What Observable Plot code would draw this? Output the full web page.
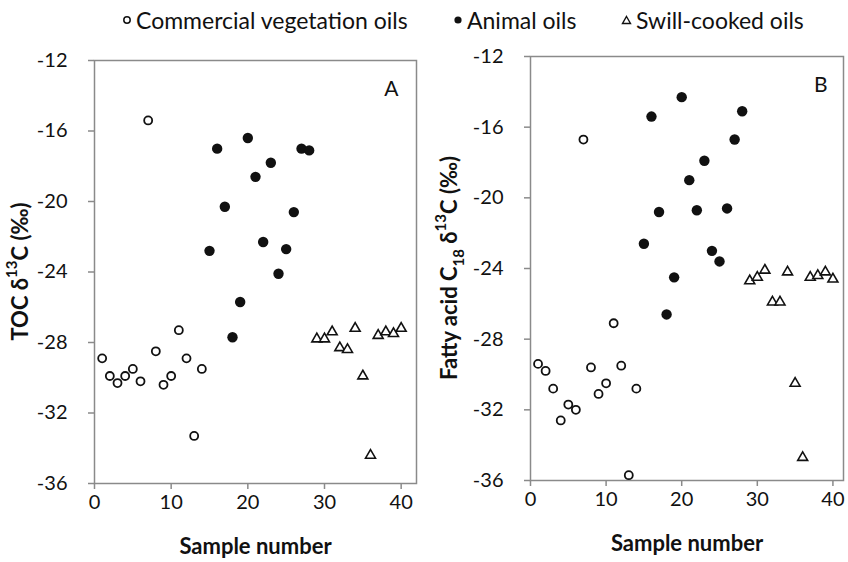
<!DOCTYPE html>
<html>
<head>
<meta charset="utf-8">
<script src="https://cdn.jsdelivr.net/npm/d3@7"></script>
<script src="https://cdn.jsdelivr.net/npm/@observablehq/plot@0.6"></script>
<style>
  html, body { margin: 0; padding: 0; background: #fff; }
  #wrap { position: relative; width: 848px; height: 562px; overflow: hidden; font-family: Lato, "Open Sans", sans-serif; color: #111; }
  .leg { position: absolute; top: 6px; height: 28px; display: flex; align-items: center; font-size: 23px; white-space: nowrap; }
  .leg svg { margin-right: 4px; }
  .panel { position: absolute; top: 40px; }
</style>
</head>
<body>
<div id="wrap">
  <div class="leg" style="left:122px"><svg width="10" height="10"><circle cx="5" cy="5" r="3.2" fill="white" stroke="#111" stroke-width="1.5"/></svg><span>Commercial vegetation oils</span></div>
  <div class="leg" style="left:453px"><svg width="10" height="10"><circle cx="5" cy="5" r="3.6" fill="#111"/></svg><span>Animal oils</span></div>
  <div class="leg" style="left:621px"><svg width="11" height="10"><path d="M5.5,1.5 L9.5,8.5 L1.5,8.5 Z" fill="white" stroke="#111" stroke-width="1.4"/></svg><span>Swill-cooked oils</span></div>
  <div id="pa" class="panel" style="left:0px"></div>
  <div id="pb" class="panel" style="left:424px"></div>
</div>
<script>
// Sample numbers per group
const vegSample    = [1, 2, 3, 4, 5, 6, 7, 8, 9, 10, 11, 12, 13, 14];
const animalSample = [15, 16, 17, 18, 19, 20, 21, 22, 23, 24, 25, 26, 27, 28];
const swillSample  = [29, 30, 31, 32, 33, 34, 35, 36, 37, 38, 39, 40];

// Panel A: TOC δ13C (‰)
const vegTOC    = [-28.9, -29.9, -30.3, -29.9, -29.5, -30.2, -15.4, -28.5, -30.4, -29.9, -27.3, -28.9, -33.3, -29.5];
const animalTOC = [-22.8, -17.0, -20.3, -27.7, -25.7, -16.4, -18.6, -22.3, -17.8, -24.1, -22.7, -20.6, -17.0, -17.1];
const swillTOC  = [-27.8, -27.8, -27.4, -28.3, -28.4, -27.2, -29.9, -34.4, -27.6, -27.4, -27.5, -27.2];

// Panel B: Fatty acid C18 δ13C (‰)
const vegFA    = [-29.4, -29.8, -30.8, -32.6, -31.7, -32.0, -16.7, -29.6, -31.1, -30.5, -27.1, -29.5, -35.7, -30.8];
const animalFA = [-22.6, -15.4, -20.8, -26.6, -24.5, -14.3, -19.0, -20.7, -17.9, -23.0, -23.6, -20.6, -16.7, -15.1];
const swillFA  = [-24.7, -24.5, -24.1, -25.9, -25.9, -24.2, -30.5, -34.7, -24.5, -24.4, -24.2, -24.6];

const xTicks = [0, 10, 20, 30, 40];
const yTicks = [-36, -32, -28, -24, -20, -16, -12];

function rows(xs, ys) { return xs.map((x, i) => ({x, y: ys[i]})); }

function panel(opts) {
  const svg = Plot.plot({
    width: 424, height: 522,
    marginLeft: opts.ml, marginRight: opts.mr, marginTop: opts.mt, marginBottom: opts.mb,
    style: {fontFamily: "Lato, 'Open Sans', sans-serif", fontSize: "20px", color: "#111", background: "white"},
    x: {domain: opts.xdom},
    y: {domain: [-36, -12]},
    marks: [
      Plot.frame({stroke: "#8a8a8a", strokeWidth: 1.5}),
      Plot.axisY({ticks: yTicks, tickSize: 6, tickPadding: 21, tickFormat: d => String(d), label: null, stroke: "#8a8a8a", strokeWidth: 1.5, fill: "#111", fontSize: 20}),
      Plot.axisX({ticks: xTicks, tickSize: 6, tickPadding: 5, tickFormat: d => String(d), label: null, stroke: "#8a8a8a", strokeWidth: 1.5, fill: "#111", fontSize: 20}),
      Plot.text(["Sample number"], {frameAnchor: "bottom", dy: 70, fontWeight: "bold", fontSize: 22, fill: "#111"}),
      Plot.text([opts.tag], {frameAnchor: "top-right", dx: -opts.tagdx, dy: opts.tagdy, fontSize: 21, fill: "#111"}),
      Plot.dot(rows(vegSample, opts.veg), {x: "x", y: "y", r: 4, fill: "white", stroke: "#111", strokeWidth: 1.8}),
      Plot.dot(rows(animalSample, opts.animal), {x: "x", y: "y", r: 5.2, fill: "#111", stroke: "none"}),
      Plot.dot(rows(swillSample, opts.swill), {x: "x", y: "y", symbol: "triangle", r: 3.7, fill: "white", stroke: "#111", strokeWidth: 1.6})
    ]
  });
  // Rotated y-axis title with superscript / subscript
  const s = d3.select(svg);
  const cy = (opts.mt + (522 - opts.mb)) / 2;
  const t = s.append("text")
    .attr("transform", `translate(${opts.lx},${cy}) rotate(-90)`)
    .attr("text-anchor", "middle")
    .attr("dominant-baseline", "middle")
    .attr("font-weight", "bold")
    .attr("font-size", 22)
    .attr("fill", "#111");
  opts.label.forEach(p => {
    const ts = t.append("tspan").text(p.t);
    if (p.sup) ts.attr("baseline-shift", "super").attr("font-size", 15);
    if (p.sub) ts.attr("baseline-shift", "sub").attr("font-size", 15);
  });
  return svg;
}

document.getElementById("pa").appendChild(panel({
  ml: 94, mr: 8, mt: 20, mb: 79, xdom: [0, 42], tag: "A", tagdx: 18, tagdy: 21, lx: 22,
  veg: vegTOC, animal: animalTOC, swill: swillTOC,
  label: [{t: "TOC δ"}, {t: "13", sup: true}, {t: "C (‰)"}]
}));
document.getElementById("pb").appendChild(panel({
  ml: 106, mr: 5, mt: 16, mb: 82, xdom: [0, 41.4], tag: "B", tagdx: 16, tagdy: 21, lx: 27,
  veg: vegFA, animal: animalFA, swill: swillFA,
  label: [{t: "Fatty acid C"}, {t: "18", sub: true}, {t: " δ"}, {t: "13", sup: true}, {t: "C (‰)"}]
}));
</script>
</body>
</html>
